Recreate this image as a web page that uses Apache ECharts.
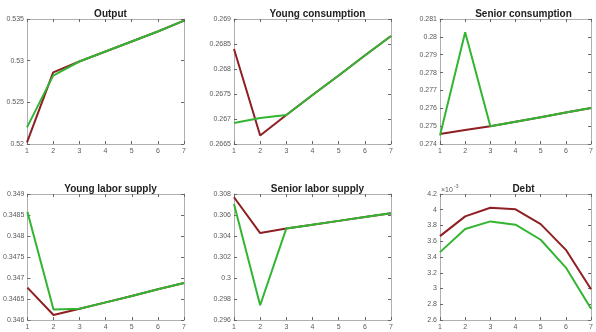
<!DOCTYPE html>
<html lang="en">
<head>
    <meta charset="UTF-8">
    <title>Transition paths</title>
    <style>
        html, body { margin: 0; padding: 0; background: #fff; }
        #chart { width: 596px; height: 332px; }
    </style>
    <script src="https://cdn.jsdelivr.net/npm/echarts@6/dist/echarts.min.js"></script>
</head>
<body>
<div id="chart"></div>
<script>
    // periods on the x axis
    var periods = [1, 2, 3, 4, 5, 6, 7];

    // panel titles
    var titles = ['Output', 'Young consumption', 'Senior consumption',
        'Young labor supply', 'Senior labor supply', 'Debt'];

    // red line values, one array per panel
    var outputRed = [0.5202, 0.5286, 0.5299, 0.5311, 0.5323, 0.5335, 0.5348];
    var youngConsRed = [0.26840, 0.26667, 0.26708, 0.26748, 0.26787, 0.26827, 0.26866];
    var seniorConsRed = [0.27456, 0.27478, 0.27499, 0.27525, 0.27550, 0.27576, 0.27601];
    var youngLabRed = [0.34677, 0.34612, 0.34627, 0.34642, 0.34657, 0.34673, 0.34688];
    var seniorLabRed = [0.30769, 0.30428, 0.30472, 0.30508, 0.30544, 0.30580, 0.30616];
    var debtRed = [0.003665, 0.003916, 0.004026, 0.004005, 0.003818, 0.003491, 0.002990];

    // green line values
    var outputGreen = [0.5220, 0.5282, 0.5299, 0.5311, 0.5323, 0.5335, 0.5348];
    var youngConsGreen = [0.26692, 0.26702, 0.26708, 0.26748, 0.26787, 0.26827, 0.26866];
    var seniorConsGreen = [0.27447, 0.28026, 0.27499, 0.27525, 0.27550, 0.27576, 0.27601];
    var youngLabGreen = [0.34858, 0.34625, 0.34627, 0.34642, 0.34657, 0.34673, 0.34688];
    var seniorLabGreen = [0.30705, 0.29740, 0.30472, 0.30508, 0.30544, 0.30580, 0.30616];
    var debtGreen = [0.003462, 0.003755, 0.003852, 0.003810, 0.003619, 0.003266, 0.002744];

    // y axis ranges [min, max, interval]
    var yRanges = [
        [0.520, 0.535, 0.005],
        [0.2665, 0.269, 0.0005],
        [0.274, 0.281, 0.001],
        [0.346, 0.349, 0.0005],
        [0.296, 0.308, 0.002],
        [0.0026, 0.0042, 0.0002]
    ];

    var redSeries = [outputRed, youngConsRed, seniorConsRed, youngLabRed, seniorLabRed, debtRed];
    var greenSeries = [outputGreen, youngConsGreen, seniorConsGreen, youngLabGreen, seniorLabGreen, debtGreen];

    var RED = '#8e1f22';
    var GREEN = '#33b533';
    var AXIS = '#b0b0b0';
    var LABEL = '#5a5a5a';

    // grid boxes [left, top, width, height]
    var boxes = [
        [27, 19, 157, 125], [234, 19, 157, 125], [440, 19, 157, 125],
        [27, 194, 157, 126], [234, 194, 157, 126], [440, 194, 157, 126]
    ];

    function pairs(ys) {
        return periods.map(function (p, i) { return [p, ys[i]]; });
    }

    function fmtY(panel) {
        return function (v) {
            if (panel === 5) return String(+(v * 1000).toFixed(1));
            return String(+v.toFixed(5));
        };
    }

    var grid = [], xAxis = [], yAxis = [], series = [], title = [], graphic = [];

    for (var i = 0; i < 6; i++) {
        var b = boxes[i];
        grid.push({left: b[0], top: b[1], width: b[2], height: b[3]});

        title.push({
            text: titles[i],
            left: b[0] + b[2] / 2,
            top: b[1] - 15,
            textAlign: 'center',
            textStyle: {fontFamily: 'Liberation Sans', fontSize: 10, fontWeight: 'bold', color: '#222'}
        });

        var xa = 2 * i, ya = 2 * i;
        // bottom / top x axes
        xAxis.push({
            type: 'value', gridIndex: i, min: 1, max: 7, interval: 1, position: 'bottom',
            axisLine: {lineStyle: {color: AXIS}},
            axisTick: {inside: true, length: 3, lineStyle: {color: '#666'}},
            axisLabel: {fontSize: 7, color: LABEL, margin: 4, fontFamily: 'Liberation Sans'},
            splitLine: {show: false}
        });
        xAxis.push({
            type: 'value', gridIndex: i, min: 1, max: 7, interval: 1, position: 'top',
            axisLine: {lineStyle: {color: AXIS}},
            axisTick: {inside: true, length: 3, lineStyle: {color: '#666'}},
            axisLabel: {show: false},
            splitLine: {show: false}
        });
        var r = yRanges[i];
        yAxis.push({
            type: 'value', gridIndex: i, min: r[0], max: r[1], interval: r[2], position: 'left',
            axisLine: {show: true, lineStyle: {color: AXIS}},
            axisTick: {show: true, inside: true, length: 3, lineStyle: {color: '#666'}},
            axisLabel: {fontSize: 7, color: LABEL, margin: 3, fontFamily: 'Liberation Sans', formatter: fmtY(i)},
            splitLine: {show: false}
        });
        yAxis.push({
            type: 'value', gridIndex: i, min: r[0], max: r[1], interval: r[2], position: 'right',
            axisLine: {show: true, lineStyle: {color: AXIS}},
            axisTick: {show: true, inside: true, length: 3, lineStyle: {color: '#666'}},
            axisLabel: {show: false},
            splitLine: {show: false}
        });

        series.push({
            type: 'line', xAxisIndex: xa, yAxisIndex: ya, data: pairs(redSeries[i]),
            symbol: 'none', lineStyle: {color: RED, width: 2}, silent: true
        });
        series.push({
            type: 'line', xAxisIndex: xa, yAxisIndex: ya, data: pairs(greenSeries[i]),
            symbol: 'none', lineStyle: {color: GREEN, width: 2}, silent: true
        });
    }

    // exponent label on the Debt panel
    graphic.push({
        type: 'text', left: 441, top: 187,
        style: {text: '×10', fontSize: 7, fill: LABEL, fontFamily: 'Liberation Sans'}
    });
    graphic.push({
        type: 'text', left: 454, top: 184,
        style: {text: '-3', fontSize: 5, fill: LABEL, fontFamily: 'Liberation Sans'}
    });

    var myChart = echarts.init(document.getElementById('chart'), null, {renderer: 'canvas'});
    myChart.setOption({
        backgroundColor: '#fff',
        animation: false,
        title: title,
        grid: grid,
        xAxis: xAxis,
        yAxis: yAxis,
        series: series,
        graphic: graphic
    });
</script>
</body>
</html>
